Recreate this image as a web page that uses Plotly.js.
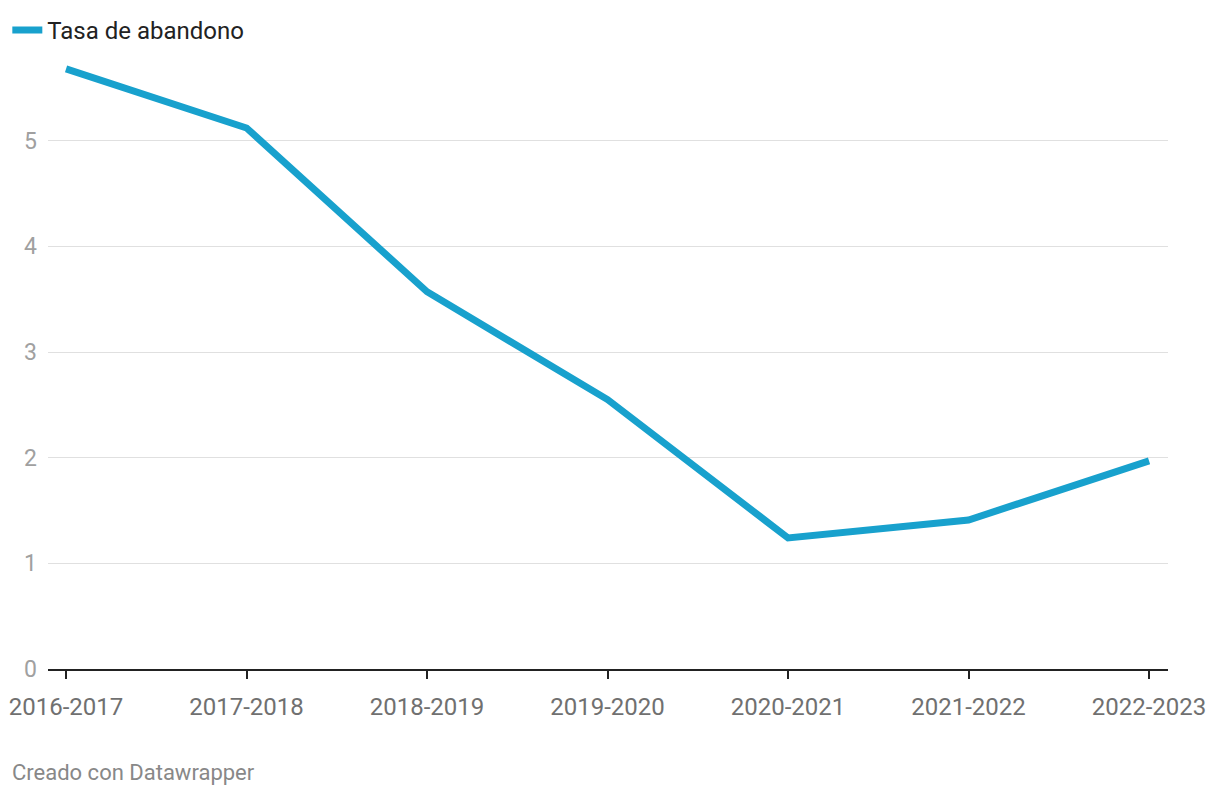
<!DOCTYPE html>
<html>
<head>
<meta charset="utf-8">
<script src="https://cdn.plot.ly/plotly-3.0.1.min.js"></script>
<style>html,body{margin:0;padding:0;background:#fff;}#chart{width:1220px;height:796px;}</style>
</head>
<body>
<div id="chart"></div>
<script>
const categories = ["2016-2017","2017-2018","2018-2019","2019-2020","2020-2021","2021-2022","2022-2023"];
const tasaAbandono = [5.68, 5.12, 3.57, 2.55, 1.24, 1.41, 1.97];
const yTicks = [0, 1, 2, 3, 4, 5];
const seriesName = "Tasa de abandono";
const footer = "Creado con Datawrapper";

const trace = {
  x: categories.map((c, i) => i),
  y: tasaAbandono,
  type: "scatter",
  mode: "lines",
  name: seriesName,
  line: {color: "#18a1cd", width: 7},
  hoverinfo: "x+y"
};

const layout = {
  width: 1220, height: 796,
  margin: {l: 48, r: 52, t: 35.4, b: 127, autoexpand: false},
  paper_bgcolor: "#fff", plot_bgcolor: "#fff",
  font: {family: "Roboto, sans-serif", size: 23, color: "#666"},
  showlegend: true,
  legend: {
    orientation: "h", xref: "container", yref: "container",
    x: 0.006, y: 0.99, xanchor: "left", yanchor: "top",
    font: {size: 24, color: "#222"},
    itemwidth: 30
  },
  xaxis: {
    range: [-0.1, 6.105],
    tickmode: "array", tickvals: categories.map((c, i) => i), ticktext: categories,
    showgrid: false, zeroline: false,
    showline: true, linecolor: "#222", linewidth: 2,
    ticks: "outside", ticklen: 8, tickwidth: 2, tickcolor: "#222",
    ticklabelstandoff: 7,
    tickfont: {size: 24, color: "#707070"},
    fixedrange: true
  },
  yaxis: {
    range: [0, 6],
    tickmode: "array", tickvals: yTicks, ticktext: yTicks.map(String),
    showgrid: true, gridcolor: "#e0e0e0", gridwidth: 1,
    zeroline: false, showline: false, ticks: "",
    ticklabelstandoff: 10,
    tickfont: {size: 23, color: "#a0a0a0"},
    fixedrange: true
  },
  annotations: [{
    text: footer, xref: "paper", yref: "paper",
    x: -0.0339, y: -0.1625, xanchor: "left", yanchor: "middle",
    showarrow: false, font: {size: 22, color: "#888"}
  }]
};

Plotly.newPlot("chart", [trace], layout, {displayModeBar: false, staticPlot: true});
</script>
</body>
</html>
